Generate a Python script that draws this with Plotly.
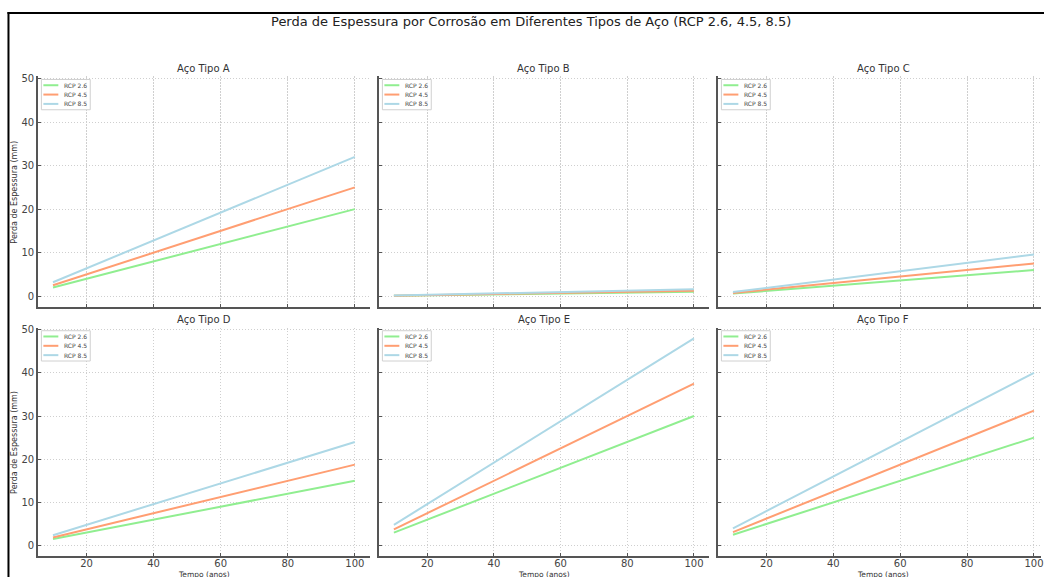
import plotly.graph_objects as go

W, H = 1044, 577

years = [10, 20, 30, 40, 50, 60, 70, 80, 90, 100]
scenarios = ["RCP 2.6", "RCP 4.5", "RCP 8.5"]
steel_types = ["Aço Tipo A", "Aço Tipo B", "Aço Tipo C", "Aço Tipo D", "Aço Tipo E", "Aço Tipo F"]

a_rcp26 = [2.0, 4.0, 6.0, 8.0, 10.0, 12.0, 14.0, 16.0, 18.0, 20.0]
a_rcp45 = [2.5, 5.0, 7.5, 10.0, 12.5, 15.0, 17.5, 20.0, 22.5, 25.0]
a_rcp85 = [3.2, 6.4, 9.6, 12.8, 16.0, 19.2, 22.4, 25.6, 28.8, 32.0]

b_rcp26 = [0.1, 0.2, 0.3, 0.4, 0.5, 0.6, 0.7, 0.8, 0.9, 1.0]
b_rcp45 = [0.125, 0.25, 0.375, 0.5, 0.625, 0.75, 0.875, 1.0, 1.125, 1.25]
b_rcp85 = [0.16, 0.32, 0.48, 0.64, 0.8, 0.96, 1.12, 1.28, 1.44, 1.6]

c_rcp26 = [0.6, 1.2, 1.8, 2.4, 3.0, 3.6, 4.2, 4.8, 5.4, 6.0]
c_rcp45 = [0.75, 1.5, 2.25, 3.0, 3.75, 4.5, 5.25, 6.0, 6.75, 7.5]
c_rcp85 = [0.96, 1.92, 2.88, 3.84, 4.8, 5.76, 6.72, 7.68, 8.64, 9.6]

d_rcp26 = [1.5, 3.0, 4.5, 6.0, 7.5, 9.0, 10.5, 12.0, 13.5, 15.0]
d_rcp45 = [1.875, 3.75, 5.625, 7.5, 9.375, 11.25, 13.125, 15.0, 16.875, 18.75]
d_rcp85 = [2.4, 4.8, 7.2, 9.6, 12.0, 14.4, 16.8, 19.2, 21.6, 24.0]

e_rcp26 = [3.0, 6.0, 9.0, 12.0, 15.0, 18.0, 21.0, 24.0, 27.0, 30.0]
e_rcp45 = [3.75, 7.5, 11.25, 15.0, 18.75, 22.5, 26.25, 30.0, 33.75, 37.5]
e_rcp85 = [4.8, 9.6, 14.4, 19.2, 24.0, 28.8, 33.6, 38.4, 43.2, 48.0]

f_rcp26 = [2.5, 5.0, 7.5, 10.0, 12.5, 15.0, 17.5, 20.0, 22.5, 25.0]
f_rcp45 = [3.125, 6.25, 9.375, 12.5, 15.625, 18.75, 21.875, 25.0, 28.125, 31.25]
f_rcp85 = [4.0, 8.0, 12.0, 16.0, 20.0, 24.0, 28.0, 32.0, 36.0, 40.0]

series = [
    [a_rcp26, a_rcp45, a_rcp85],
    [b_rcp26, b_rcp45, b_rcp85],
    [c_rcp26, c_rcp45, c_rcp85],
    [d_rcp26, d_rcp45, d_rcp85],
    [e_rcp26, e_rcp45, e_rcp85],
    [f_rcp26, f_rcp45, f_rcp85],
]

x_ticks = [20, 40, 60, 80, 100]
y_ticks = [0, 10, 20, 30, 40, 50]

colors = ["#90EE90", "#FF9E72", "#ADD8E6"]
FONT = "DejaVu Sans"

# pixel layout of panels
col_px = [(38, 371), (380, 711), (720, 1044)]
col_center = [204.5, 545.5, 886]
x_ranges = [[5.5, 104.5], [5.5, 104.5], [5.5, 102.1]]
row_px = [(73, 305), (326, 556)]
y_range = [-2.45, 50.45]

def px_x(p):
    return p / W

def px_y(p):
    return 1 - p / H

fig = go.Figure()
layout = dict(
    width=W, height=H,
    margin=dict(l=0, r=0, t=0, b=0),
    paper_bgcolor="white", plot_bgcolor="white",
    font=dict(family=FONT, color="#333"),
    showlegend=False,
)
annotations = []
shapes = []

for i in range(6):
    r, c = divmod(i, 3)
    n = i + 1
    sfx = "" if n == 1 else str(n)
    for k in range(3):
        fig.add_trace(go.Scatter(
            x=years, y=series[i][k], mode="lines", name=scenarios[k],
            line=dict(color=colors[k], width=2),
            xaxis="x" + sfx, yaxis="y" + sfx,
        ))
    x0, x1 = col_px[c]
    y0, y1 = row_px[r]
    layout["xaxis" + sfx] = dict(
        domain=[px_x(x0), px_x(x1)], range=x_ranges[c], anchor="y" + sfx,
        tickvals=x_ticks, showticklabels=(r == 1), ticks="inside", ticklen=3,
        tickcolor="#555", showline=True, linecolor="#555", linewidth=1.5,
        showgrid=True, gridcolor="#cfcfcf", griddash="1.5px,1.5px", gridwidth=1,
        zeroline=False, tickfont=dict(size=10, color="#444", family=FONT),
        ticklabeloverflow="allow", ticklabelstandoff=-3,
    )
    layout["yaxis" + sfx] = dict(
        domain=[px_y(y1), px_y(y0)], range=y_range, anchor="x" + sfx,
        tickvals=y_ticks, showticklabels=(c == 0), ticks="inside", ticklen=3,
        tickcolor="#555", showline=True, linecolor="#555", linewidth=1.5,
        showgrid=True, gridcolor="#cfcfcf", griddash="1.5px,1.5px", gridwidth=1,
        zeroline=False, tickfont=dict(size=10, color="#444", family=FONT),
    )

    # legend box (upper-left of each panel)
    shapes.append(dict(
        type="rect", xref="paper", yref="paper",
        x0=px_x(x0 + 3.5), x1=px_x(x0 + 52.5), y0=px_y(y0 + 33.5), y1=px_y(y0 + 3),
        line=dict(color="#d0d0d0", width=1), fillcolor="rgba(255,255,255,0.85)",
    ))
    for k in range(3):
        ly = y0 + 8.8 + 9.4 * k
        shapes.append(dict(
            type="line", xref="paper", yref="paper",
            x0=px_x(x0 + 5.5), x1=px_x(x0 + 20.5), y0=px_y(ly), y1=px_y(ly),
            line=dict(color=colors[k], width=2),
        ))
        annotations.append(dict(
            text=scenarios[k], x=px_x(x0 + 25), y=px_y(ly),
            xref="paper", yref="paper", showarrow=False,
            xanchor="left", yanchor="middle", borderpad=0,
            font=dict(size=6, color="#444", family=FONT),
        ))

    annotations.append(dict(
        text=steel_types[i], x=px_x(col_center[c]), y=px_y(y0 - 8.5),
        xref="paper", yref="paper", showarrow=False,
        xanchor="center", yanchor="middle",
        font=dict(size=10, color="#333", family=FONT),
    ))
    if c == 0:
        annotations.append(dict(
            text="Perda de Espessura (mm)", x=px_x(15), y=px_y((y0 + y1) / 2),
            xref="paper", yref="paper", showarrow=False, textangle=-90,
            xanchor="center", yanchor="middle",
            font=dict(size=8, color="#333", family=FONT),
        ))
    if r == 1:
        annotations.append(dict(
            text="Tempo (anos)", x=px_x(col_center[c]), y=px_y(574.5),
            xref="paper", yref="paper", showarrow=False,
            xanchor="center", yanchor="middle", borderpad=0,
            font=dict(size=7.5, color="#333", family=FONT),
        ))

annotations.append(dict(
    text="Perda de Espessura por Corrosão em Diferentes Tipos de Aço (RCP 2.6, 4.5, 8.5)",
    x=px_x(532.5), y=px_y(17.5), xref="paper", yref="paper", showarrow=False,
    xanchor="center", yanchor="middle", font=dict(size=13, color="#222", family=FONT),
))

shapes += [
    dict(type="line", xref="paper", yref="paper", x0=px_x(8.5), x1=px_x(8.5),
         y0=px_y(8), y1=-0.05, line=dict(color="black", width=2)),
    dict(type="line", xref="paper", yref="paper", x0=px_x(7.5), x1=1.05,
         y0=px_y(9), y1=px_y(9), line=dict(color="black", width=2)),
]

layout["annotations"] = annotations
layout["shapes"] = shapes

fig.update_layout(**layout)
fig.write_html("out.html")
